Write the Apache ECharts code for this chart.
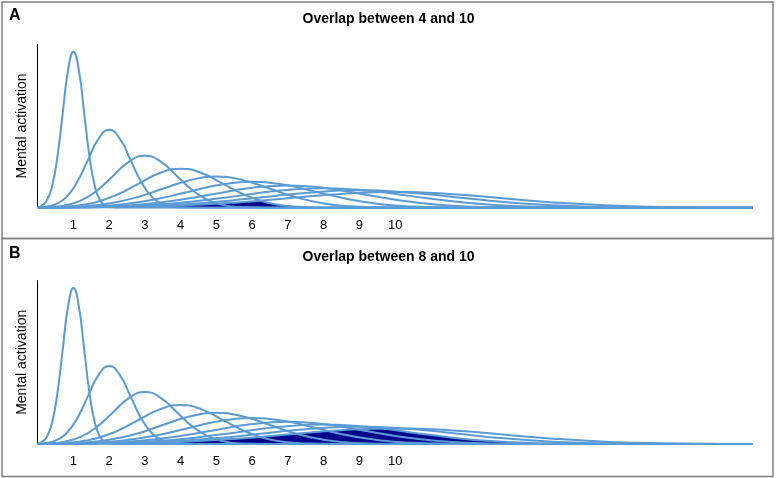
<!DOCTYPE html>
<html>
<head>
<meta charset="utf-8">
<script src="https://cdn.jsdelivr.net/npm/echarts@6/dist/echarts.min.js"></script>
<style>html,body{margin:0;padding:0;background:#fff}#c{width:777px;height:478px}</style>
</head>
<body>
<div id="c"></div>
<script>
// Curves (number line representations), [x, activation]
const curve1 = [[0,0.0039],[0.1,0.0111],[0.25,0.0439],[0.4,0.1353],[0.55,0.3247],[0.7,0.6065],[0.85,0.8825],[1,1],[1.15,0.8825],[1.3,0.6065],[1.45,0.3247],[1.6,0.1353],[1.75,0.0439],[1.9,0.0111],[2.05,0.0022],[2.2,0.0003],[20,0]];
const curve2 = [[0,0.0019],[0.2,0.0056],[0.5,0.022],[0.8,0.0677],[1.1,0.1624],[1.4,0.3033],[1.7,0.4413],[2,0.5],[2.3,0.4413],[2.6,0.3033],[2.9,0.1624],[3.2,0.0677],[3.5,0.022],[3.8,0.0056],[4.1,0.0011],[4.4,0.0002],[20,0]];
const curve3 = [[0,0.0013],[0.3,0.0037],[0.75,0.0146],[1.2,0.0451],[1.65,0.1082],[2.1,0.2022],[2.55,0.2942],[3,0.3333],[3.45,0.2942],[3.9,0.2022],[4.35,0.1082],[4.8,0.0451],[5.25,0.0146],[5.7,0.0037],[6.15,0.0007],[6.6,0.0001],[20,0]];
const curve4 = [[0,0.001],[0.4,0.0028],[1,0.011],[1.6,0.0338],[2.2,0.0812],[2.8,0.1516],[3.4,0.2206],[4,0.25],[4.6,0.2206],[5.2,0.1516],[5.8,0.0812],[6.4,0.0338],[7,0.011],[7.6,0.0028],[8.2,0.0006],[8.8,0.0001],[20,0]];
const curve5 = [[0,0.0008],[0.5,0.0022],[1.25,0.0088],[2,0.0271],[2.75,0.0649],[3.5,0.1213],[4.25,0.1765],[5,0.2],[5.75,0.1765],[6.5,0.1213],[7.25,0.0649],[8,0.0271],[8.75,0.0088],[9.5,0.0022],[10.25,0.0004],[11,0.0001],[20,0]];
const curve6 = [[0,0.0006],[0.6,0.0019],[1.5,0.0073],[2.4,0.0226],[3.3,0.0541],[4.2,0.1011],[5.1,0.1471],[6,0.1667],[6.9,0.1471],[7.8,0.1011],[8.7,0.0541],[9.6,0.0226],[10.5,0.0073],[11.4,0.0019],[12.3,0.0004],[13.2,0.0001],[20,0]];
const curve7 = [[0,0.0006],[0.7,0.0016],[1.75,0.0063],[2.8,0.0193],[3.85,0.0464],[4.9,0.0867],[5.95,0.1261],[7,0.1429],[8.05,0.1261],[9.1,0.0867],[10.15,0.0464],[11.2,0.0193],[12.25,0.0063],[13.3,0.0016],[14.35,0.0003],[15.4,0],[20,0]];
const curve8 = [[0,0.0005],[0.8,0.0014],[2,0.0055],[3.2,0.0169],[4.4,0.0406],[5.6,0.0758],[6.8,0.1103],[8,0.125],[9.2,0.1103],[10.4,0.0758],[11.6,0.0406],[12.8,0.0169],[14,0.0055],[15.2,0.0014],[16.4,0.0003],[17.6,0],[20,0]];
const curve9 = [[0,0.0004],[0.9,0.0012],[2.25,0.0049],[3.6,0.015],[4.95,0.0361],[6.3,0.0674],[7.65,0.098],[9,0.1111],[10.35,0.098],[11.7,0.0674],[13.05,0.0361],[14.4,0.015],[15.75,0.0049],[17.1,0.0012],[18.45,0.0002],[20,0]];
const curve10 = [[0,0.0004],[1,0.0011],[2.5,0.0044],[4,0.0135],[5.5,0.0325],[7,0.0607],[8.5,0.0883],[10,0.1],[11.5,0.0883],[13,0.0607],[14.5,0.0325],[16,0.0135],[17.5,0.0044],[19,0.0011],[20,0.0004]];

// Shaded overlaps
const overlapA = [[0,0.0004],[1,0.0011],[2,0.0029],[3,0.0066],[4,0.0135],[4.5,0.0186],[5,0.0249],[5.5,0.0325],[5.75,0.0367],[6,0.0411],[6.22,0.0452],[6.5,0.0285],[6.75,0.0181],[7,0.011],[7.5,0.0036],[8,0.001],[9,0],[20,0]];
const overlapB = [[0,0.0004],[1,0.0011],[2,0.0029],[3,0.0066],[4,0.0135],[5,0.0249],[6,0.0411],[7,0.0607],[8,0.0801],[8.5,0.0883],[9,0.0946],[9.6,0.0991],[10,0.0883],[10.5,0.0727],[11,0.0573],[12,0.0311],[13,0.0143],[14,0.0055],[15,0.0018],[16,0.0005],[17,0.0001],[20,0]];

const xTickLabels = ['1','2','3','4','5','6','7','8','9','10'];
const panelLetters = ['A','B'];
const panelTitles = ['Overlap between 4 and 10','Overlap between 8 and 10'];
const yAxisName = 'Mental activation';

const curves = [curve1,curve2,curve3,curve4,curve5,curve6,curve7,curve8,curve9,curve10];
const overlaps = [overlapA, overlapB];

const LINE = '#5b9bd5';
const DARK = '#00008b';
const FONT = 'Liberation Sans, Arial, sans-serif';

const chart = echarts.init(document.getElementById('c'), null, {renderer:'canvas'});

const grids = [
  {left: 37.7, top: 44.3, width: 715, height: 163.4},
  {left: 37.7, top: 280.6, width: 715, height: 163.4}
];

const xAxes = [0,1].map(i => ({
  type: 'value', gridIndex: i, min: 0, max: 20, interval: 1,
  axisLine: {show: false}, axisTick: {show: false}, splitLine: {show: false},
  axisLabel: {
    margin: 11, color: '#000', fontSize: 13, fontFamily: FONT,
    formatter: v => (v >= 1 && v <= xTickLabels.length) ? xTickLabels[v - 1] : ''
  }
}));
const yAxes = [0,1].map(i => ({
  type: 'value', gridIndex: i, min: 0, max: 1.047,
  axisLine: {show: true, lineStyle: {color: '#000', width: 1}},
  axisTick: {show: false}, axisLabel: {show: false}, splitLine: {show: false},
  name: yAxisName, nameLocation: 'middle', nameGap: 9, nameRotate: 90,
  nameTextStyle: {color: '#000', fontSize: 14, fontFamily: FONT}
}));

const series = [];
[0,1].forEach(p => {
  series.push({
    type: 'line', xAxisIndex: p, yAxisIndex: p, data: overlaps[p],
    symbol: 'none', smooth: false, lineStyle: {width: 0},
    areaStyle: {color: DARK, opacity: 1}, z: 1, silent: true
  });
  curves.forEach(c => series.push({
    type: 'line', xAxisIndex: p, yAxisIndex: p, data: c,
    symbol: 'none', smooth: 0.5,
    lineStyle: {color: LINE, width: 2}, z: 2, silent: true
  }));
});

chart.setOption({
  animation: false,
  backgroundColor: '#fff',
  grid: grids,
  xAxis: xAxes,
  yAxis: yAxes,
  title: [
    {text: panelTitles[0], left: 'center', top: 7, textStyle: {fontSize: 14, fontWeight: 'bold', color: '#000', fontFamily: FONT}},
    {text: panelTitles[1], left: 'center', top: 245, textStyle: {fontSize: 14, fontWeight: 'bold', color: '#000', fontFamily: FONT}}
  ],
  graphic: [
    {type: 'rect', shape: {x: 2, y: 2, width: 771, height: 236.5}, style: {fill: null, stroke: '#808080', lineWidth: 1.5}, silent: true},
    {type: 'rect', shape: {x: 2, y: 238.5, width: 771, height: 238}, style: {fill: null, stroke: '#808080', lineWidth: 1.5}, silent: true},
    {type: 'text', left: 9, top: 8, style: {text: panelLetters[0], font: 'bold 16px ' + FONT, fill: '#000'}},
    {type: 'text', left: 9, top: 246, style: {text: panelLetters[1], font: 'bold 16px ' + FONT, fill: '#000'}}
  ],
  series: series
});
</script>
</body>
</html>
